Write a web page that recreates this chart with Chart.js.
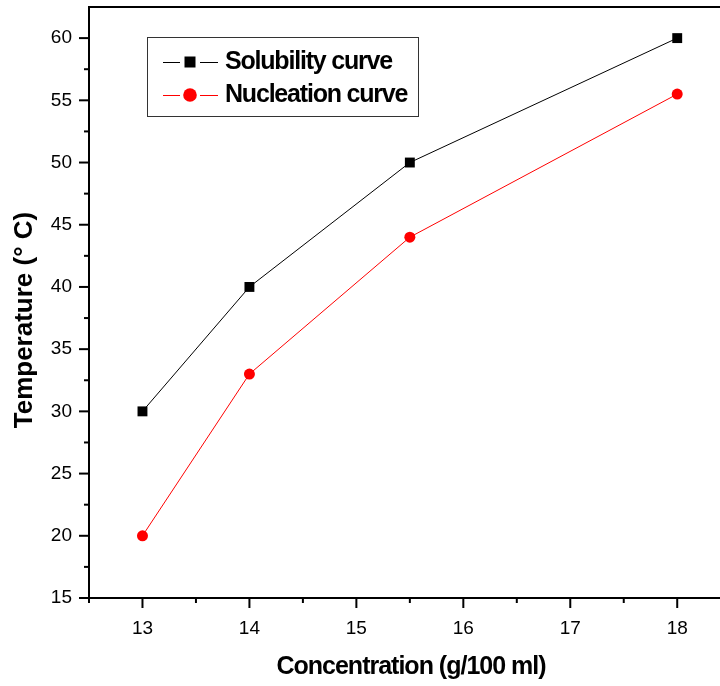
<!DOCTYPE html>
<html><head><meta charset="utf-8">
<script src="https://cdn.jsdelivr.net/npm/chart.js@4"></script>
<style>html,body{margin:0;padding:0;background:#fff;}</style>
</head><body>
<canvas id="c" width="720" height="686"></canvas>
<script>
const concentration = [13, 14, 15.5, 18];
const solubilityTemp = [30, 40, 50, 60];
const nucleationTemp = [20, 33, 44, 55.5];
const seriesLabels = ['Solubility curve', 'Nucleation curve'];
const seriesColors = ['#000000', '#ff0000'];
const seriesMarkers = ['rect', 'circle'];
const xTickValues = [13, 14, 15, 16, 17, 18];
const yTickValues = [15, 20, 25, 30, 35, 40, 45, 50, 55, 60];
const xTitle = 'Concentration (g/100 ml)';
const yTitle = 'Temperature (\u00b0 C)';
const xRange = [12.5, 18.4];
const yRange = [15, 62.5];

const FONT = '"Liberation Sans", Arial, sans-serif';

function noPad(s) { s.paddingTop = 0; s.paddingBottom = 0; s.paddingLeft = 0; s.paddingRight = 0; }

const axisPlugin = {
  id: 'axisDecor',
  afterDraw(chart) {
    const ctx = chart.ctx;
    const ca = chart.chartArea;
    const xs = chart.scales.x, ys = chart.scales.y;
    ctx.save();
    ctx.strokeStyle = '#000';
    ctx.lineWidth = 2;
    // top frame
    ctx.beginPath(); ctx.moveTo(ca.left - 1, ca.top); ctx.lineTo(ca.right, ca.top); ctx.stroke();
    // y ticks (major + minor)
    for (let v = yRange[0]; v < yRange[1]; v += 2.5) {
      const p = ys.getPixelForValue(v);
      const len = (v % 5 === 0) ? 10 : 5;
      ctx.beginPath(); ctx.moveTo(ca.left - len, p); ctx.lineTo(ca.left, p); ctx.stroke();
    }
    // x ticks (major + minor)
    for (let v = xRange[0]; v <= xRange[1]; v += 0.5) {
      const p = xs.getPixelForValue(v);
      const len = (v % 1 === 0) ? 10 : 5;
      ctx.beginPath(); ctx.moveTo(p, ca.bottom); ctx.lineTo(p, ca.bottom + len); ctx.stroke();
    }
    // axis titles
    ctx.fillStyle = '#000';
    ctx.textAlign = 'center';
    ctx.textBaseline = 'middle';
    ctx.font = 'bold 25px ' + FONT;
    ctx.letterSpacing = '-1px';
    ctx.fillText(xTitle, 411, 667);
    ctx.save();
    ctx.translate(25, 320);
    ctx.rotate(-Math.PI / 2);
    ctx.font = 'bold 26px ' + FONT;
    ctx.letterSpacing = '0px';
    ctx.fillText(yTitle, 0, 0);
    ctx.restore();
    // legend
    const bx = ca.left + 58, by = ca.top + 30, bw = 271, bh = 79;
    ctx.lineWidth = 1;
    ctx.strokeStyle = '#333';
    ctx.strokeRect(bx + 0.5, by + 0.5, bw, bh);
    chart.data.datasets.forEach((ds, i) => {
      const ry = by + 25 + i * 33;
      const mx = bx + 43;
      ctx.strokeStyle = ds.borderColor;
      ctx.lineWidth = 1;
      ctx.beginPath();
      ctx.moveTo(bx + 16, ry + 0.5); ctx.lineTo(mx - 10, ry + 0.5);
      ctx.moveTo(mx + 10, ry + 0.5); ctx.lineTo(bx + 71, ry + 0.5);
      ctx.stroke();
      ctx.fillStyle = ds.backgroundColor;
      ctx.beginPath();
      if (ds.pointStyle === 'rect') {
        ctx.rect(mx - 5.5, ry - 5.5, 11, 11);
      } else {
        ctx.arc(mx, ry, 6.8, 0, Math.PI * 2);
      }
      ctx.fill();
      ctx.fillStyle = '#000';
      ctx.font = 'bold 25px ' + FONT;
      ctx.letterSpacing = '-1.2px';
      ctx.textBaseline = 'middle';
      ctx.textAlign = 'left';
      ctx.fillText(ds.label, bx + 78, ry);
    });
    ctx.restore();
  }
};

const datasets = [solubilityTemp, nucleationTemp].map((vals, i) => ({
  label: seriesLabels[i],
  data: concentration.map((c, j) => ({x: c, y: vals[j]})),
  borderColor: seriesColors[i],
  backgroundColor: seriesColors[i],
  borderWidth: 1,
  pointStyle: seriesMarkers[i],
  pointRadius: i === 0 ? 7 : 5.5,
  pointBorderWidth: 0,
  tension: 0,
  clip: false
}));

new Chart(document.getElementById('c'), {
  type: 'line',
  data: {datasets},
  plugins: [axisPlugin],
  options: {
    responsive: false,
    animation: false,
    layout: {autoPadding: false, padding: {top: 7, right: 0, left: 0, bottom: 0}},
    plugins: {legend: {display: false}, tooltip: {enabled: false}},
    scales: {
      x: {
        type: 'linear', min: xRange[0], max: xRange[1],
        afterFit: s => { s.height = 88; noPad(s); },
        afterBuildTicks: s => { s.ticks = xTickValues.map(v => ({value: v})); },
        ticks: {padding: 19, color: '#000', font: {family: FONT, size: 19}, maxRotation: 0, autoSkip: false},
        grid: {display: false, drawTicks: false},
        border: {display: true, color: '#000', width: 2},
        title: {display: false}
      },
      y: {
        type: 'linear', min: yRange[0], max: yRange[1],
        afterFit: s => { s.width = 89; noPad(s); },
        afterBuildTicks: s => { s.ticks = yTickValues.map(v => ({value: v})); },
        ticks: {padding: 17, color: '#000', font: {family: FONT, size: 19}, autoSkip: false},
        grid: {display: false, drawTicks: false},
        border: {display: true, color: '#000', width: 2},
        title: {display: false}
      }
    }
  }
});
</script>
</body></html>
